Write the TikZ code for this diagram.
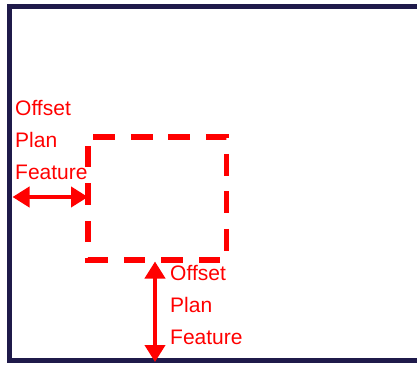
\documentclass[tikz,border=0pt]{standalone}
\usepackage{fontspec}
\setmainfont{Liberation Sans}
\usetikzlibrary{arrows.meta}
\definecolor{framenavy}{HTML}{1F1A4A}
\definecolor{pptred}{HTML}{FF0000}
\tikzset{
  framestyle/.style={draw=framenavy, line width=5.2pt, line join=miter},
  dashbox/.style={draw=pptred, line width=5.5pt, line join=miter,
    dash pattern=on 21.7pt off 15.8pt, dash phase=32.2pt},
  dimarrow/.style={draw=pptred, line width=4pt,
    {Triangle[width=20pt,length=17pt]}-{Triangle[width=20pt,length=17pt]}},
  dimlabel/.style={text=pptred, inner sep=0pt, anchor=north west, align=left,
    font=\fontsize{21}{32}\selectfont}
}
\begin{document}
\begin{tikzpicture}[x=1pt,y=-1pt]
\useasboundingbox (0,0) rectangle (417,364);
\clip (0,0) rectangle (417,364);
% outer frame (right edge outside the picture)
\draw[framestyle] (440,6.5) -- (9.5,6.5) -- (9.5,360.8) -- (440,360.8);
% dashed plan feature
\coordinate (tl) at (88,137);
\coordinate (br) at (226.5,260);
\draw[dashbox] (tl) -- (br |- tl) -- (br) -- (tl |- br) -- cycle;
% horizontal offset
\coordinate (hA) at (12.5,197);
\coordinate (hB) at (88,197);
\draw[dimarrow] (hA) -- (hB);
\node[dimlabel] (lab1) at (15,99.7) {Offset\\Plan\\Feature};
% vertical offset
\coordinate (vA) at (155,261.5);
\coordinate (vB) at (155,362);
\draw[dimarrow] (vA) -- (vB);
\node[dimlabel] (lab2) at (170,264.7) {Offset\\Plan\\Feature};
\end{tikzpicture}
\end{document}
